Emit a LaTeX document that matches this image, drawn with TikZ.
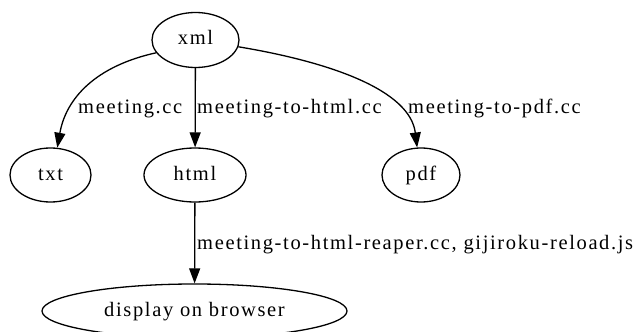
\documentclass[tikz,border=0pt]{standalone}
\usepackage{fontspec}
\newfontfamily\gvfont[LetterSpace=8]{Liberation Serif}
\usetikzlibrary{arrows.meta,shapes.geometric}
\begin{document}
\begin{tikzpicture}[x=1pt,y=-1pt,
  gvnode/.style={draw, ellipse, line width=1.3pt, inner sep=0pt,
    minimum height=54pt, text height=10pt, text depth=0pt,
    font=\gvfont\fontsize{20.5}{24}\selectfont},
  gvedge/.style={draw, line width=1.3pt, -{Triangle[length=15pt,width=11pt]}},
  gvlabel/.style={anchor=base west, inner sep=0pt,
    font=\gvfont\fontsize{20.5}{24}\selectfont}]
\useasboundingbox (0,0) rectangle (641,332);
\node[gvnode, minimum width=87pt, minimum height=55pt] (xml) at (195.5,40) {xml};
\node[gvnode, minimum width=81pt] (txt) at (50.5,175) {txt};
\node[gvnode, minimum width=102pt] (html) at (195,175) {html};
\node[gvnode, minimum width=78pt] (pdf) at (421,175) {pdf};
\node[gvnode, minimum width=305pt] (disp) at (194.5,311) {display on browser};
\draw[gvedge] (xml.198.7) .. controls (96,66) and (66,98) .. (txt.76);
\draw[gvedge] (xml) -- (html);
\draw[gvedge] (xml.-9) .. controls (330,62) and (410,90) .. (pdf.98);
\draw[gvedge] (html) -- (disp);
\node[gvlabel] (l1) at (78,113) {meeting.cc};
\node[gvlabel] (l2) at (197,113) {meeting-to-html.cc};
\node[gvlabel] (l3) at (408,113) {meeting-to-pdf.cc};
\node[gvlabel] (l4) at (197,249) {meeting-to-html-reaper.cc, gijiroku-reload.js};
\end{tikzpicture}
\end{document}
